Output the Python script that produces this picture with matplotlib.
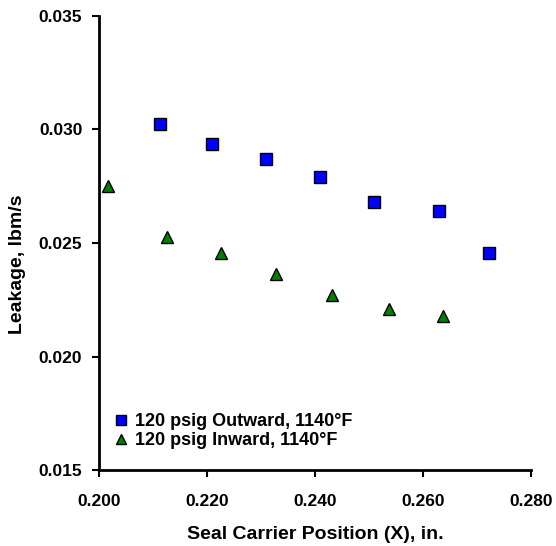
import matplotlib
matplotlib.use("Agg")
import matplotlib.pyplot as plt

# data
x_out = [0.2113, 0.2209, 0.2309, 0.2409, 0.2509, 0.2629, 0.2723]
y_out = [0.03024, 0.02936, 0.02870, 0.02791, 0.02681, 0.02641, 0.02456]
x_in = [0.2017, 0.2126, 0.2226, 0.2327, 0.2431, 0.2537, 0.2638]
y_in = [0.02749, 0.02526, 0.02456, 0.02363, 0.02271, 0.02209, 0.02178]

x_ticks = [0.200, 0.220, 0.240, 0.260, 0.280]
y_ticks = [0.015, 0.020, 0.025, 0.030, 0.035]

plt.rcParams['font.family'] = ['Liberation Sans', 'DejaVu Sans']
plt.rcParams['font.weight'] = 'bold'

fig = plt.figure(figsize=(5.56, 5.46), dpi=100)
ax = fig.add_axes([0.178, 0.139, 0.777, 0.832])

ax.plot(x_out, y_out, linestyle='none', marker='s', markersize=8,
        markerfacecolor='#0000FF', markeredgecolor='black', markeredgewidth=1,
        label='120 psig Outward, 1140°F', clip_on=False)
ax.plot(x_in, y_in, linestyle='none', marker='^', markersize=9,
        markerfacecolor='#008000', markeredgecolor='black', markeredgewidth=1,
        label='120 psig Inward, 1140°F', clip_on=False)

ax.set_xlim(0.200, 0.280)
ax.set_ylim(0.015, 0.035)
ax.set_xticks(x_ticks)
ax.set_yticks(y_ticks)
ax.set_xticklabels(['%.3f' % v for v in x_ticks])
ax.set_yticklabels(['%.3f' % v for v in y_ticks])
ax.tick_params(direction='out', length=5, width=1.5, labelsize=12.5)
ax.tick_params(axis='x', pad=12)
ax.tick_params(axis='y', pad=7)

for s in ['top', 'right']:
    ax.spines[s].set_visible(False)
for s in ['left', 'bottom']:
    ax.spines[s].set_linewidth(2)

ax.set_xlabel('Seal Carrier Position (X), in.', fontsize=14, fontweight='bold')
ax.set_ylabel('Leakage, lbm/s', fontsize=14, fontweight='bold')
ax.xaxis.set_label_coords(0.5, -0.124)
ax.yaxis.set_label_coords(-0.17, 0.454)

ax.legend(loc='lower left', bbox_to_anchor=(0.029, 0.046), frameon=False,
          fontsize=13, handletextpad=0.3, handlelength=1.0, borderaxespad=0,
          borderpad=0, labelspacing=0.1, markerscale=0.85)

fig.savefig('out.png', dpi=100)
